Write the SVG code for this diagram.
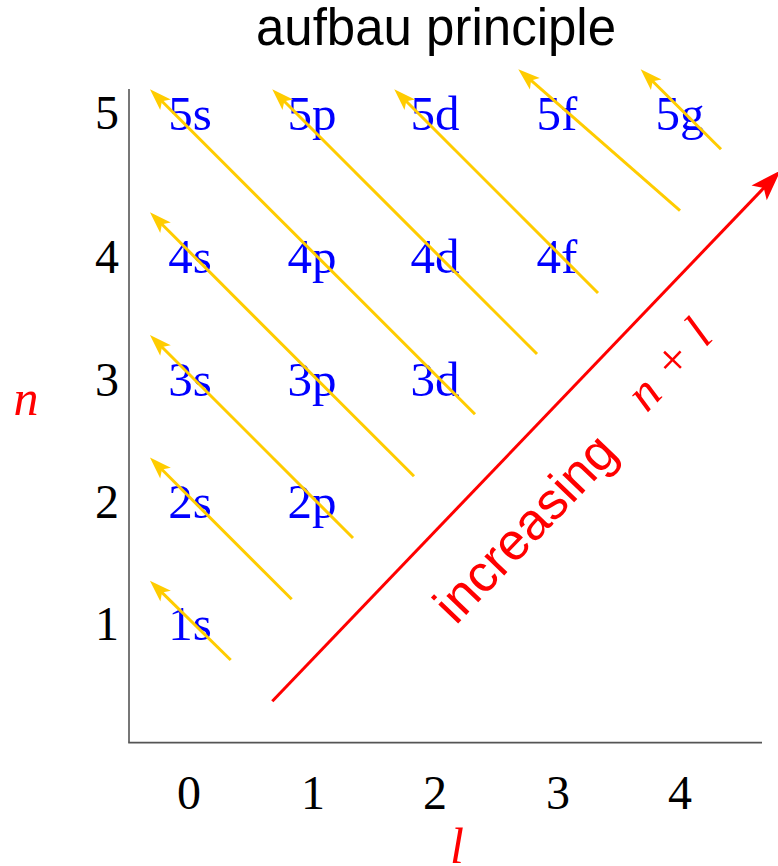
<svg xmlns="http://www.w3.org/2000/svg" width="778" height="866" viewBox="0 0 778 866">
<style>
.title{font-family:"Liberation Sans",Arial,sans-serif;font-size:51px;fill:#000}
.tick{font-family:"Liberation Serif","Times New Roman",serif;font-size:48px;fill:#000;text-anchor:middle}
.orb{font-family:"Liberation Serif","Times New Roman",serif;font-size:49px;fill:#0000FF;text-anchor:middle}
.var{font-family:"Liberation Serif","Times New Roman",serif;font-size:50px;font-style:italic;fill:#FF0000;text-anchor:middle}
.plus{font-family:"Liberation Serif","Times New Roman",serif;font-size:50px;fill:#FF0000;text-anchor:middle}
.inc{font-family:"Liberation Sans",Arial,sans-serif;font-size:52px;fill:#FF0000}
.axis{stroke:#555;stroke-width:1.6;fill:none}
.diag{stroke:#FFCC00;stroke-width:3;fill:none;marker-end:url(#yh)}
.red{stroke:#FF0000;stroke-width:3;fill:none;marker-end:url(#rh)}
</style>
<defs>
<marker id="yh" markerUnits="userSpaceOnUse" orient="auto" markerWidth="30" markerHeight="30" refX="16" refY="0" viewBox="-2 -10 30 20" overflow="visible">
<path d="M22,0 L0,-7.5 L5,0 L0,7.5 Z" fill="#FFCC00"/>
</marker>
<marker id="rh" markerUnits="userSpaceOnUse" orient="auto" markerWidth="40" markerHeight="40" refX="20" refY="0" viewBox="-2 -12 36 24" overflow="visible">
<path d="M28,0 L0,-9.5 L6,0 L0,9.5 Z" fill="#FF0000"/>
</marker>
</defs>

<text class="title" x="436" y="45" text-anchor="middle">aufbau principle</text>

<g id="axes">
<line class="axis" x1="129" y1="89" x2="129" y2="742.6"/>
<line class="axis" x1="128.2" y1="742.6" x2="762" y2="742.6"/>
<text class="tick" x="107" y="129">5</text>
<text class="tick" x="107" y="273">4</text>
<text class="tick" x="107" y="396">3</text>
<text class="tick" x="107" y="518">2</text>
<text class="tick" x="107" y="640">1</text>
<text class="tick" x="189" y="809">0</text>
<text class="tick" x="313" y="809">1</text>
<text class="tick" x="435" y="809">2</text>
<text class="tick" x="558" y="809">3</text>
<text class="tick" x="680" y="809">4</text>
<text class="var" x="26" y="415">n</text>
<text class="var" x="457" y="863">l</text>
</g>

<g id="orbitals">
<g id="o5s"><text class="orb" x="190" y="130">5s</text></g>
<g id="o5p"><text class="orb" x="312" y="130">5p</text></g>
<g id="o5d"><text class="orb" x="435" y="130">5d</text></g>
<g id="o5f"><text class="orb" x="557" y="130">5f</text></g>
<g id="o5g"><text class="orb" x="680" y="130">5g</text></g>
<g id="o4s"><text class="orb" x="190" y="273">4s</text></g>
<g id="o4p"><text class="orb" x="312" y="273">4p</text></g>
<g id="o4d"><text class="orb" x="435" y="273">4d</text></g>
<g id="o4f"><text class="orb" x="557" y="273">4f</text></g>
<g id="o3s"><text class="orb" x="190" y="396">3s</text></g>
<g id="o3p"><text class="orb" x="312" y="396">3p</text></g>
<g id="o3d"><text class="orb" x="435" y="396">3d</text></g>
<g id="o2s"><text class="orb" x="190" y="518">2s</text></g>
<g id="o2p"><text class="orb" x="312" y="518">2p</text></g>
<g id="o1s"><text class="orb" x="190" y="640">1s</text></g>
</g>

<g id="connectors">
<line class="diag" x1="230.7" y1="660" x2="154.2" y2="584.9"/>
<line class="diag" x1="291.7" y1="599.3" x2="154.2" y2="461.8"/>
<line class="diag" x1="353" y1="538" x2="154.2" y2="339.2"/>
<line class="diag" x1="414" y1="476.3" x2="154.2" y2="216.5"/>
<line class="diag" x1="475" y1="414.3" x2="154.2" y2="93.5"/>
<line class="diag" x1="537" y1="354" x2="276.5" y2="93.5"/>
<line class="diag" x1="598" y1="293" x2="398.5" y2="93.5"/>
<line class="diag" x1="680" y1="210.7" x2="522.8" y2="73.2"/>
<line class="diag" x1="721" y1="149.3" x2="644.9" y2="73.5"/>
<line class="red" x1="272.3" y1="701.3" x2="774.5" y2="176.8"/>
</g>

<g id="label" transform="translate(458,628) rotate(-46.25)">
<text class="inc" x="0" y="-3">increasing</text>
<text class="var" x="298" y="-12">n</text>
<text class="plus" x="342" y="-14">+</text>
<text class="var" x="380" y="-15">l</text>
</g>
</svg>
